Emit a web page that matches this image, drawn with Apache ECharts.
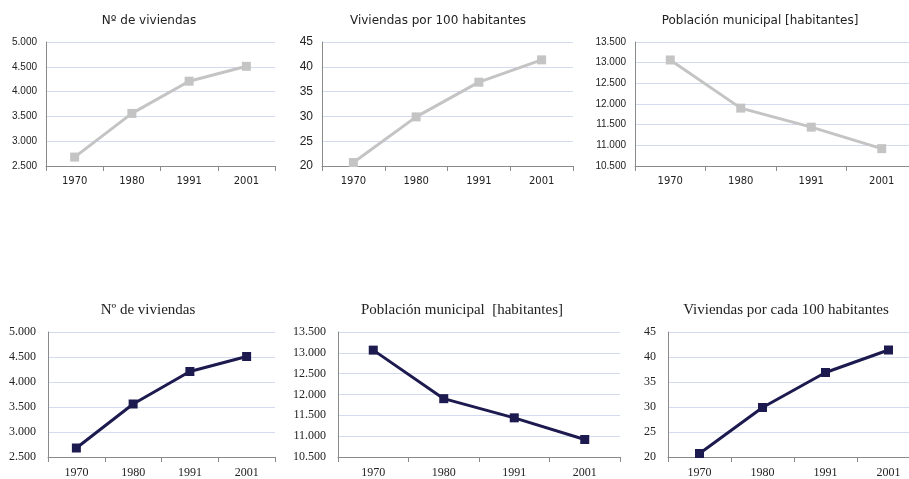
<!DOCTYPE html>
<html>
<head>
<meta charset="utf-8">
<script src="https://cdn.jsdelivr.net/npm/echarts@6/dist/echarts.min.js"></script>
<style>
  html, body { margin: 0; padding: 0; background: #fff; overflow: hidden; }
  #chart { width: 930px; height: 479px; }
</style>
</head>
<body>
<div id="chart"></div>
<script>
// datos
const years = ['1970', '1980', '1991', '2001']
const viviendas = [2680, 3560, 4210, 4510]
const viviendasPor100 = [20.7, 29.9, 36.9, 41.4]
const poblacion = [13065, 11900, 11440, 10920]

const titles = [
  'Nº de viviendas', 'Viviendas por 100 habitantes', 'Población municipal [habitantes]',
  'Nº de viviendas', 'Población municipal  [habitantes]', 'Viviendas por cada 100 habitantes'
]

// miles con punto
const fmtMiles = v => v >= 1000 ? Math.floor(v / 1000) + '.' + String(v % 1000).padStart(3, '0') : String(v)

const gray = '#c4c4c4'
const navy = '#1c1a4e'
const sans = 'DejaVu Sans'
const serif = 'Liberation Serif'

// paneles: [left, top, width, height]  (el de la derecha se sale del lienzo, como en el original)
const panels = [
  {box: [46, 42, 229, 124], data: viviendas, min: 2500, max: 5000, step: 500, color: gray, font: sans, tx: 144, ys: 10},
  {box: [322, 42, 251, 124], data: viviendasPor100, min: 20, max: 45, step: 5, color: gray, font: sans, tx: 433, ys: 12},
  {box: [635, 42, 282, 124], data: poblacion, min: 10500, max: 13500, step: 500, color: gray, font: sans, tx: 755, ys: 10},
  {box: [48, 332, 227, 125], data: viviendas, min: 2500, max: 5000, step: 500, color: navy, font: serif, tx: 143, ys: 12},
  {box: [338, 332, 282, 126], data: poblacion, min: 10500, max: 13500, step: 500, color: navy, font: serif, tx: 457, ys: 12},
  {box: [668, 332, 252, 126], data: viviendasPor100, min: 20, max: 45, step: 5, color: navy, font: serif, tx: 781, ys: 12}
]

const option = {
  animation: false,
  title: [],
  grid: [],
  xAxis: [],
  yAxis: [],
  series: []
}

panels.forEach((p, i) => {
  const isSerif = p.font === serif
  option.title.push({
    text: titles[i],
    left: p.tx,
    top: p.box[1] - (isSerif ? 34 : 32),
    textAlign: 'center',
    textStyle: {fontFamily: p.font, fontSize: isSerif ? 15 : 12, fontWeight: 'normal', color: '#222'}
  })
  option.grid.push({left: p.box[0], top: p.box[1], width: p.box[2], height: p.box[3], containLabel: false})
  option.xAxis.push({
    type: 'category',
    gridIndex: i,
    data: years,
    boundaryGap: true,
    axisLine: {lineStyle: {color: '#8a8a8a', width: 1}},
    axisTick: {show: true, length: 5, inside: false, lineStyle: {color: '#8a8a8a'}},
    axisLabel: {fontFamily: p.font, fontSize: isSerif ? 12 : 10, color: '#222', margin: 10}
  })
  option.yAxis.push({
    type: 'value',
    gridIndex: i,
    min: p.min,
    max: p.max,
    interval: p.step,
    axisLine: {show: true, lineStyle: {color: '#8a8a8a', width: 1}},
    axisTick: {show: false},
    splitLine: {lineStyle: {color: '#d3dcee', width: 1}},
    axisLabel: {
      fontFamily: isSerif ? serif : 'Liberation Sans',
      fontSize: p.ys,
      color: '#222',
      margin: isSerif ? 12 : 9,
      formatter: v => fmtMiles(v)
    }
  })
  option.series.push({
    type: 'line',
    xAxisIndex: i,
    yAxisIndex: i,
    data: p.data,
    symbol: 'rect',
    symbolSize: 9,
    lineStyle: {color: p.color, width: 3},
    itemStyle: {color: p.color},
    silent: true
  })
})

const chart = echarts.init(document.getElementById('chart'))
chart.setOption(option)
</script>
</body>
</html>
